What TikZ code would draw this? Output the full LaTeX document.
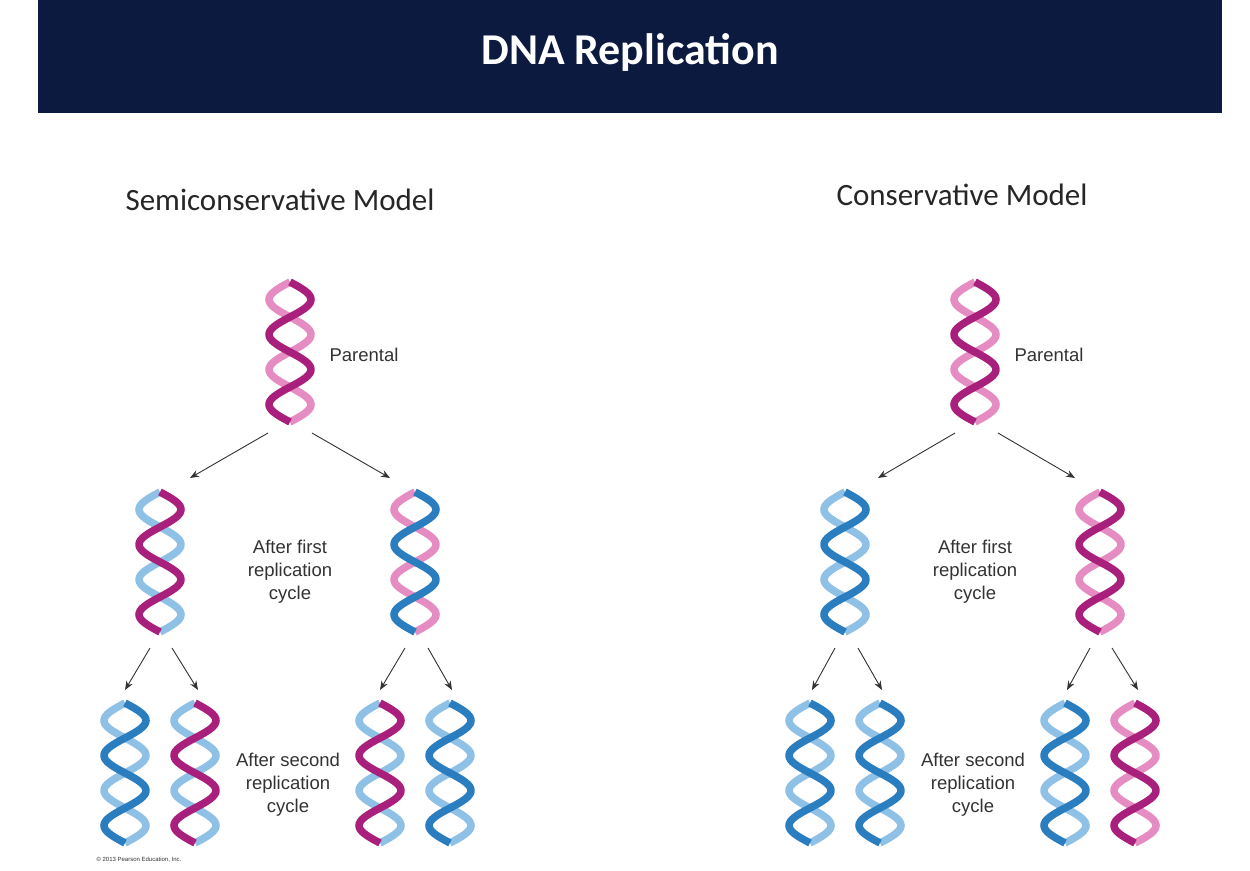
\documentclass[tikz,border=0pt]{standalone}
\usepackage{fontspec}
\setmainfont{Carlito}
\newfontfamily\arialf{Liberation Sans}
\usetikzlibrary{arrows.meta}
\definecolor{navy}{HTML}{0B1A3E}
\definecolor{bl}{HTML}{2A7DBE}
\definecolor{blL}{HTML}{8FC0E6}
\definecolor{mg}{HTML}{A8207C}
\definecolor{mgL}{HTML}{E58CC2}
\newcommand\dnahelix[5]{% name, cx, ytop, colA, colB
  \draw[line width=7.5, #5] plot[domain=0:140, samples=80] ({#2-21*sin(\x*5.142857)}, {#3+\x});
  \draw[line width=7.5, #4] plot[domain=0:140, samples=80] ({#2+21*sin(\x*5.142857)}, {#3+\x});
  \coordinate (#1) at (#2,#3);}
\tikzset{arr/.style={-{Stealth[length=9pt,width=7pt]}, line width=0.9pt, black!80},
  lab/.style={font=\arialf\fontsize{18.5}{23}\selectfont, text=black!80, align=center},
  sub/.style={font=\fontsize{31}{34}\selectfont, text=black!85}}
\begin{document}
\begin{tikzpicture}[x=1pt,y=-1pt]
\useasboundingbox (0,0) rectangle (1250,870);
\fill[white] (0,0) rectangle (1250,870);
\fill[navy] (38,0) rectangle (1222,113);
\node[font=\bfseries\fontsize{44}{48}\selectfont, text=white] (title) at (630,52) {DNA Replication};
\node[sub] (s1) at (280,200) {Semiconservative Model};
\node[sub] (s2) at (962,195) {Conservative Model};
% semiconservative
\dnahelix{sp}{290}{282}{mg}{mgL}
\dnahelix{sa}{160}{492}{mg}{blL}
\dnahelix{sb}{415}{492}{bl}{mgL}
\dnahelix{sc}{125}{703}{bl}{blL}
\dnahelix{sd}{195}{703}{mg}{blL}
\dnahelix{se}{380}{703}{mg}{blL}
\dnahelix{sf}{450}{703}{bl}{blL}
\node[lab,anchor=west] (lp1) at (326,355) {Parental};
\node[lab] (lf1) at (290,572) {After first\\replication\\cycle};
\node[lab] (ls1) at (288,785) {After second\\replication\\cycle};
\coordinate (a1) at (268,433); \coordinate (a2) at (190,478);
\coordinate (a3) at (312,433); \coordinate (a4) at (390,478);
\draw[arr] (a1) -- (a2); \draw[arr] (a3) -- (a4);
\coordinate (b1) at (150,648); \coordinate (b2) at (125,690);
\coordinate (b3) at (172,648); \coordinate (b4) at (198,690);
\coordinate (b5) at (405,648); \coordinate (b6) at (380,690);
\coordinate (b7) at (428,648); \coordinate (b8) at (452,690);
\draw[arr] (b1)--(b2); \draw[arr] (b3)--(b4); \draw[arr] (b5)--(b6); \draw[arr] (b7)--(b8);
% conservative
\dnahelix{cp}{975}{282}{mg}{mgL}
\dnahelix{ca}{845}{492}{bl}{blL}
\dnahelix{cb}{1100}{492}{mg}{mgL}
\dnahelix{cc}{810}{703}{bl}{blL}
\dnahelix{cd}{880}{703}{bl}{blL}
\dnahelix{ce}{1065}{703}{bl}{blL}
\dnahelix{cf}{1135}{703}{mg}{mgL}
\node[lab,anchor=west] (lp2) at (1011,355) {Parental};
\node[lab] (lf2) at (975,572) {After first\\replication\\cycle};
\node[lab] (ls2) at (973,785) {After second\\replication\\cycle};
\coordinate (c1) at (955,433); \coordinate (c2) at (878,478);
\coordinate (c3) at (998,433); \coordinate (c4) at (1075,478);
\draw[arr] (c1) -- (c2); \draw[arr] (c3) -- (c4);
\coordinate (d1) at (835,648); \coordinate (d2) at (812,690);
\coordinate (d3) at (858,648); \coordinate (d4) at (882,690);
\coordinate (d5) at (1090,648); \coordinate (d6) at (1067,690);
\coordinate (d7) at (1112,648); \coordinate (d8) at (1138,690);
\draw[arr] (d1)--(d2); \draw[arr] (d3)--(d4); \draw[arr] (d5)--(d6); \draw[arr] (d7)--(d8);
\node[font=\arialf\fontsize{6}{7}\selectfont, text=black!80, anchor=west] (copy) at (93,860) {\copyright{} 2013 Pearson Education, Inc.};
\end{tikzpicture}
\end{document}
